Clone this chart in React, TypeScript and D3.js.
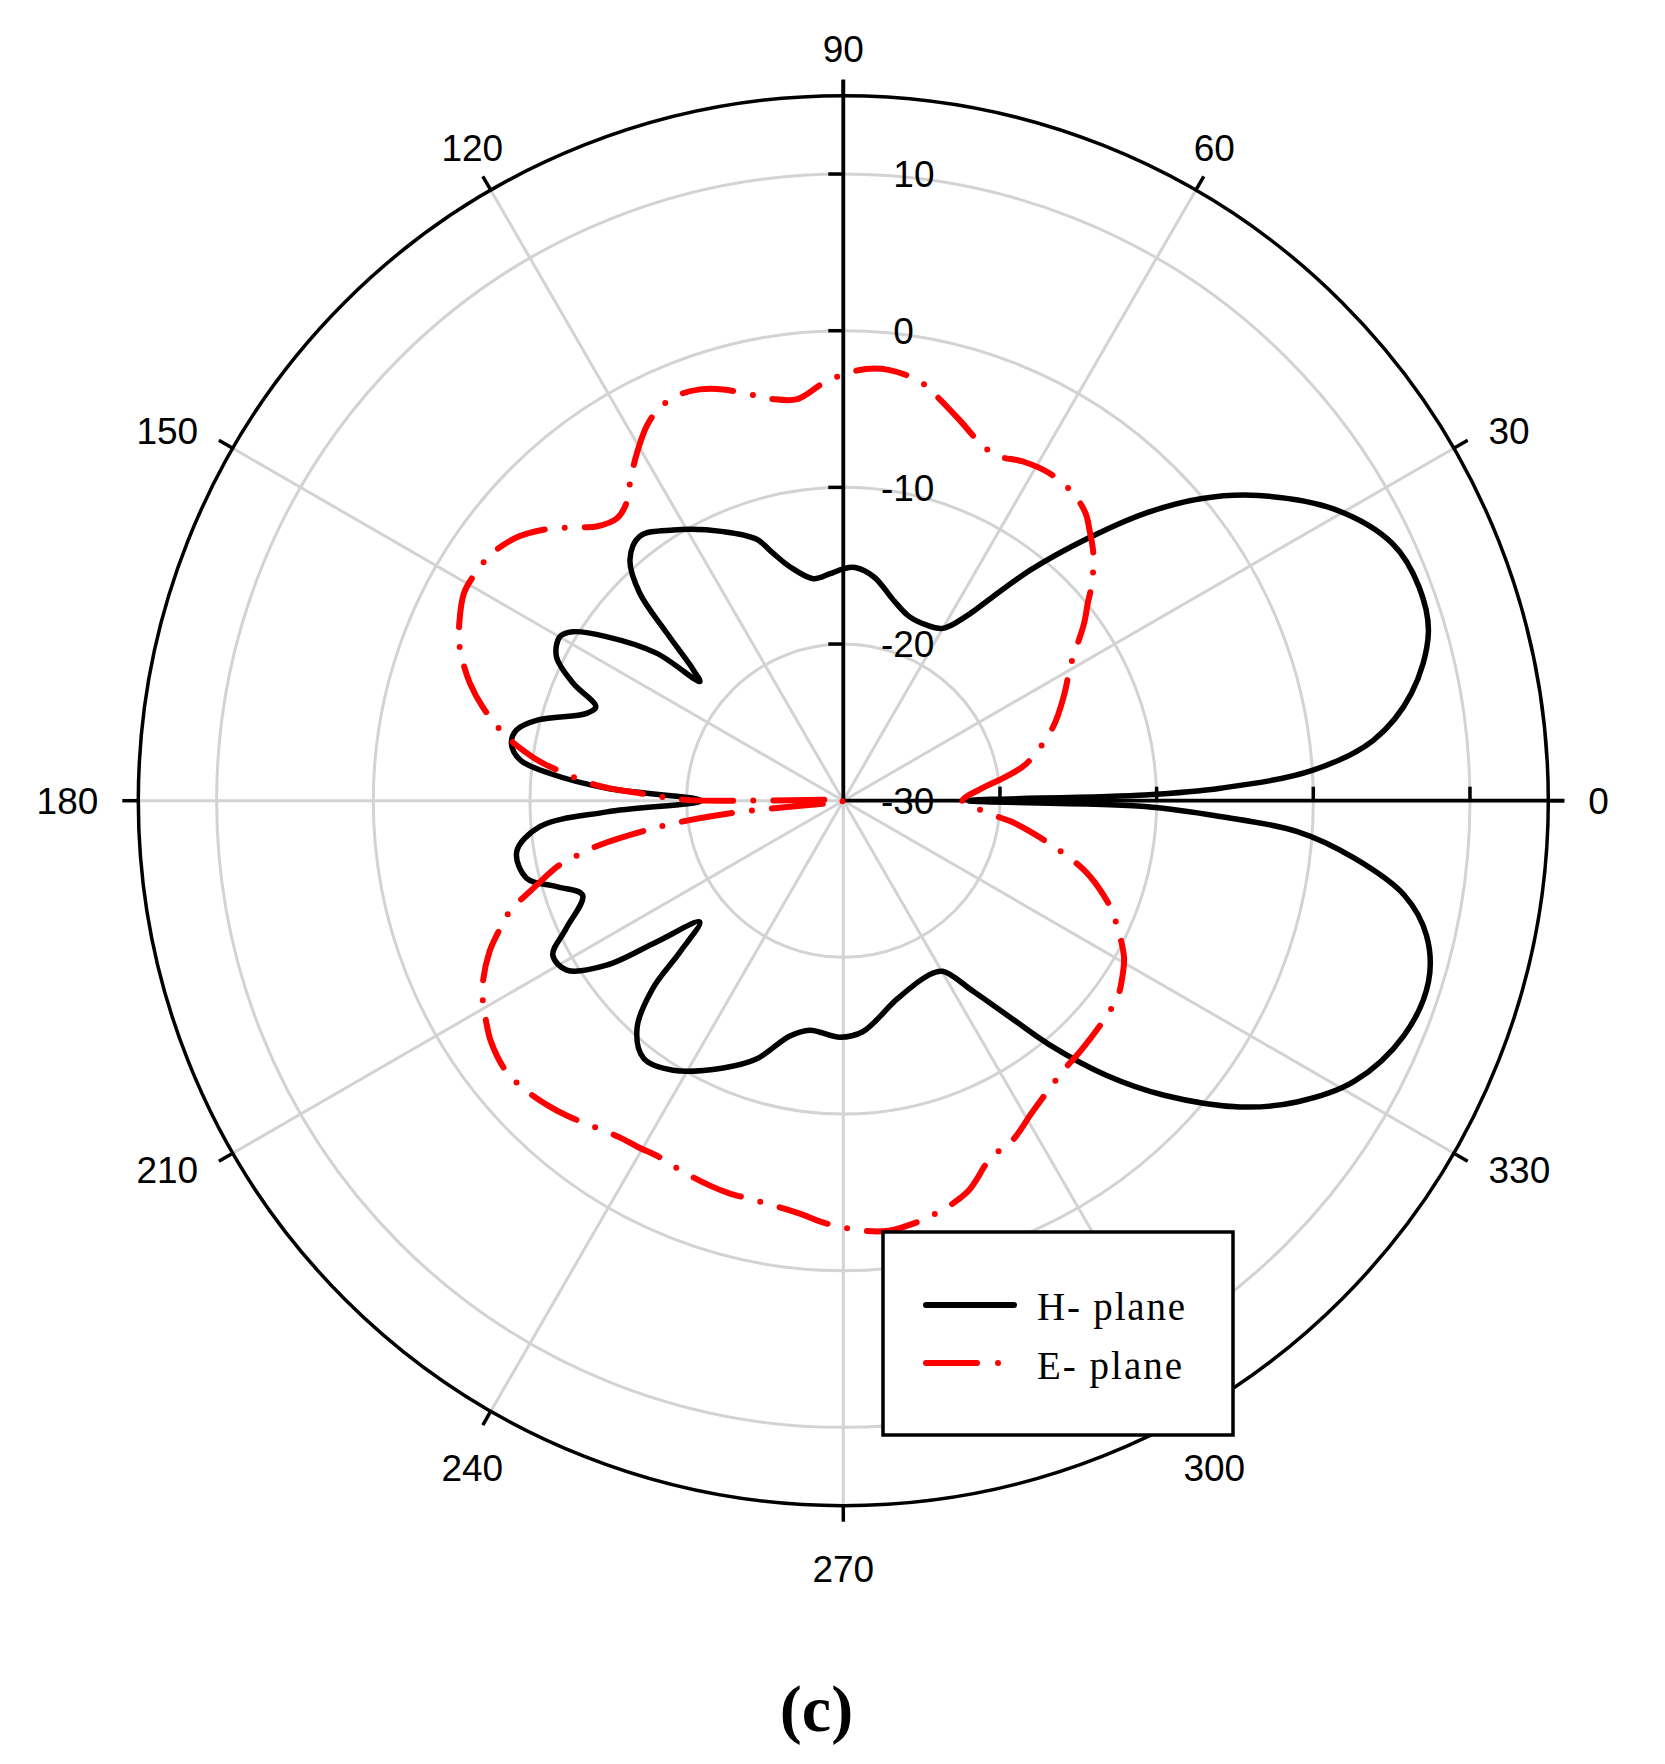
import React from 'react';
import * as d3 from 'd3';

type Pt = [number, number]; // [angle in degrees, gain in dB]

// H-plane radiation pattern
const hPlane: Pt[] = [
  [0, -22], [1.1, -10.75], [1.9, -5.9], [3.7, 0.0], [6.5, 4.05], [10.7, 6.9], [16, 8.85],
  [20.4, 9.2], [25.1, 8.7], [30.6, 6.5], [36.3, 2.9], [40.1, -0.05], [43.6, -3.4], [47, -7.1],
  [50.9, -11.0], [53.8, -13.9], [56.4, -15.9], [60, -17.3], [65, -17.6], [70.5, -17.5],
  [76, -16.8], [82.1, -15.6], [87.1, -15.1], [90, -15.2], [93.5, -15.5], [97.7, -15.7],
  [102.8, -14.7], [105.8, -13.6], [108.4, -12.4], [114, -11.2], [122.1, -9.6], [127.6, -8.7],
  [131.5, -9.45], [134.4, -11.4], [136.5, -14.5], [138.9, -17.3], [140.3, -18.1], [141.7, -14.8],
  [145.3, -11.6], [148, -9.65], [149.9, -9.1], [153.3, -9.5], [156.5, -11.2], [159.2, -13.1],
  [161.2, -12.7], [165.1, -9.9], [167.8, -8.65], [170.2, -8.5], [172.8, -9.2], [174.7, -11.2],
  [177, -14.9], [180, -20.9], [182.7, -14.9], [184.9, -10.55], [188.9, -8.9], [193.8, -9.2],
  [196.7, -10.9], [199.9, -12.3], [204.8, -10.5], [208, -9.0], [211.5, -9.3], [214.8, -11.6],
  [217.1, -15.05], [220.2, -18.0], [222.8, -15.8], [224.6, -12.9], [227.8, -10.4], [232.2, -9.2],
  [237.7, -9.65], [245.8, -11.3], [251.4, -12.6], [257.2, -14.6], [261.7, -15.2], [269.2, -14.9],
  [274.8, -15.2], [285.3, -16.9], [295.8, -17.6], [300.2, -17.4], [304.3, -15.25], [307.7, -12.45],
  [310.2, -9.6], [313.8, -5.7], [317.45, -2.2], [322.35, 2.0], [326.4, 4.75], [331.2, 7.2],
  [337.3, 8.8], [342.8, 9.1], [347, 8.2], [350.45, 6.3], [353.6, 2.8], [356.1, -0.95],
  [357.6, -5.9], [358.9, -10.75],
];

// E-plane radiation pattern
const ePlane: Pt[] = [
  [0, -22.4], [5.65, -20.9], [8.4, -19.5], [11.5, -18.05], [19.4, -15.8], [25.9, -14.3],
  [30.5, -13.2], [36.4, -10.9], [38.9, -9.95], [41.2, -8.9], [44.7, -7.55], [47.7, -6.65],
  [49.9, -6.0], [53.3, -5.5], [57.8, -5.3], [62.1, -5.5], [66, -5.9], [69.1, -5.55], [73, -4.6],
  [77, -3.5], [79.6, -2.8], [84, -2.35], [87, -2.4], [90, -2.8], [92.7, -3.3], [96.5, -4.2],
  [100.1, -3.95], [102.9, -3.4], [106.3, -2.65], [109.2, -2.2], [111.9, -2.05], [115, -2.3],
  [117.7, -3.0], [120.7, -4.2], [123.5, -5.4], [126.1, -6.5], [128.7, -6.9], [132, -6.45],
  [133.6, -5.9], [135.6, -5.1], [137.9, -4.2], [140.8, -3.3], [144.7, -2.6], [148.1, -2.4],
  [151.3, -2.4], [155.2, -3.0], [157.9, -3.55], [160.1, -4.2], [162.5, -5.0], [165.4, -6.2],
  [169, -8.0], [171.2, -9.4], [172.9, -10.7], [176.4, -14.2], [177.9, -17.0], [179.7, -20.0],
  [180.3, -30], [186.2, -23.5], [187.2, -20.1], [188.3, -17.7], [190.3, -14.2], [191.5, -12.8],
  [192.8, -11.4], [195.4, -9.7], [198.4, -7.55], [200.6, -6.55], [203.1, -5.45], [206.7, -4.25],
  [209.2, -3.65], [211.7, -3.2], [214.4, -2.75], [218.8, -2.4], [222.7, -2.6], [225.8, -2.9],
  [228.7, -3.25], [236.4, -4.2], [239.4, -4.3], [242.5, -4.4], [246.5, -4.2], [250.9, -4.0],
  [253.9, -3.9], [256.6, -3.9], [264, -3.5], [266.8, -3.1], [269.6, -2.8], [273, -2.5],
  [276, -2.4], [279, -2.6], [282.3, -2.95], [287.6, -3.8], [292.3, -5.3], [296.6, -5.8],
  [301, -6.7], [305.65, -7.4], [309.5, -7.8], [313.7, -8.0], [320.9, -8.3], [324.7, -8.5],
  [327.5, -8.9], [330.7, -9.45], [334.1, -10.4], [338.1, -11.6], [341.1, -12.75], [343.9, -14.0],
  [346.8, -15.7], [350.6, -17.9], [352.9, -19.2], [354.5, -20.4], [358, -21.9],
];

const angleTicks = [0, 30, 60, 90, 120, 150, 180, 210, 240, 270, 300, 330];
const radialLabels = [-30, -20, -10, 0, 10];
const gridRings = [-20, -10, 0, 10];
const legendLabels = ['H- plane', 'E- plane'];
const caption = '(c)';

const WIDTH = 1665;
const HEIGHT = 1764;
const CX = 843.3;
const CY = 800.7;
const R = 705;

const SANS = '"Liberation Sans", Arial, sans-serif';
const SERIF = '"Liberation Serif", "Times New Roman", serif';
const FS = 37; // tick label font size
const DIGIT_H = 0.716 * FS;

const rad = (deg: number) => (deg * Math.PI) / 180;

const App: React.FC = () => {
  const r = d3.scaleLinear().domain([-30, 15]).range([0, R]);

  // d3 radial angle: 0 at 12 o'clock, clockwise -> convert from math angle
  const line = d3.lineRadial<Pt>()
    .angle(d => Math.PI / 2 - rad(d[0]))
    .radius(d => r(d[1]))
    .curve(d3.curveCatmullRomClosed.alpha(0.5));

  // angle label placement
  const angleLabel = (a: number) => {
    const c = Math.cos(rad(a));
    const s = Math.sin(rad(a));
    if (Math.abs(c) > 0.7) {
      return {
        x: CX + c * 745,
        y: CY - s * 739 + DIGIT_H / 2,
        anchor: c > 0 ? 'start' : 'end',
      };
    }
    return {
      x: CX + c * 742,
      y: s > 0 ? CY - s * 739 : CY - s * 755 + DIGIT_H,
      anchor: 'middle',
    };
  };

  const legend = { x: 883, y: 1232, w: 350, h: 203 };

  return (
    <svg
      width={WIDTH}
      height={HEIGHT}
      style={{ position: 'absolute', left: 0, top: 0 }}
    >
      <rect width={WIDTH} height={HEIGHT} fill="#ffffff" />

      <g transform={`translate(${CX},${CY})`}>
        {/* grid rings */}
        {gridRings.map(v => (
          <circle key={`ring${v}`} r={r(v)} fill="none" stroke="#d3d3d3" strokeWidth={3} />
        ))}
        {/* spokes */}
        {angleTicks.map(a => (
          <line
            key={`spoke${a}`}
            x1={0}
            y1={0}
            x2={R * Math.cos(rad(a))}
            y2={-R * Math.sin(rad(a))}
            stroke="#d3d3d3"
            strokeWidth={3}
          />
        ))}
        {/* outer circle */}
        <circle r={R} fill="none" stroke="#000" strokeWidth={3.5} />
        {/* angular ticks */}
        {angleTicks.map(a => (
          <line
            key={`atick${a}`}
            x1={R * Math.cos(rad(a))}
            y1={-R * Math.sin(rad(a))}
            x2={(R + 16) * Math.cos(rad(a))}
            y2={-(R + 16) * Math.sin(rad(a))}
            stroke="#000"
            strokeWidth={3.5}
          />
        ))}
        {/* axes */}
        <line x1={0} y1={0} x2={R + 16} y2={0} stroke="#000" strokeWidth={3.8} />
        <line x1={0} y1={0} x2={0} y2={-(R + 16)} stroke="#000" strokeWidth={3.8} />
        {gridRings.map(v => (
          <line key={`vt${v}`} x1={-15} x2={0} y1={-r(v)} y2={-r(v)} stroke="#000" strokeWidth={3.5} />
        ))}
        {gridRings.map(v => (
          <line key={`ht${v}`} x1={r(v)} x2={r(v)} y1={-14} y2={0} stroke="#000" strokeWidth={3.5} />
        ))}

        {/* radial labels */}
        {radialLabels.map(v => (
          <text
            key={`rl${v}`}
            x={50 - (v < 0 ? 0.333 * FS : 0)}
            y={-r(v) + DIGIT_H / 2}
            fontFamily={SANS}
            fontSize={FS}
            fill="#000"
          >
            {v < 0 ? `-${Math.abs(v)}` : v}
          </text>
        ))}

        {/* patterns */}
        <path d={line(hPlane) || ''} fill="none" stroke="#000" strokeWidth={5.5} strokeLinejoin="round" />
        <path
          d={line(ePlane) || ''}
          fill="none"
          stroke="#ff0000"
          strokeWidth={6}
          strokeLinecap="round"
          strokeLinejoin="round"
          strokeDasharray="51 20 0 20"
        />
      </g>

      {/* angle labels */}
      {angleTicks.map(a => {
        const p = angleLabel(a);
        return (
          <text
            key={`al${a}`}
            x={p.x}
            y={p.y}
            textAnchor={p.anchor as any}
            fontFamily={SANS}
            fontSize={FS}
            fill="#000"
          >
            {a}
          </text>
        );
      })}

      {/* legend */}
      <rect
        x={legend.x}
        y={legend.y}
        width={legend.w}
        height={legend.h}
        fill="#fff"
        stroke="#000"
        strokeWidth={3.5}
      />
      <line
        x1={legend.x + 43}
        x2={legend.x + 131}
        y1={legend.y + 73}
        y2={legend.y + 73}
        stroke="#000"
        strokeWidth={6}
        strokeLinecap="round"
      />
      <line
        x1={legend.x + 43}
        x2={legend.x + 131}
        y1={legend.y + 131}
        y2={legend.y + 131}
        stroke="#ff0000"
        strokeWidth={6}
        strokeLinecap="round"
        strokeDasharray="51 21 0 21"
      />
      {legendLabels.map((t, i) => (
        <text
          key={t}
          x={legend.x + 154}
          y={legend.y + 88 + i * 59}
          fontFamily={SERIF}
          fontSize={39}
          textLength={i === 0 ? 148 : 145}
          lengthAdjust="spacing"
          fill="#000"
        >
          {t}
        </text>
      ))}

      {/* caption */}
      <text
        x={816.5}
        y={1731}
        textAnchor="middle"
        fontFamily={SERIF}
        fontWeight="bold"
        fontSize={66}
        fill="#000"
      >
        {caption}
      </text>
    </svg>
  );
};

export default App;
